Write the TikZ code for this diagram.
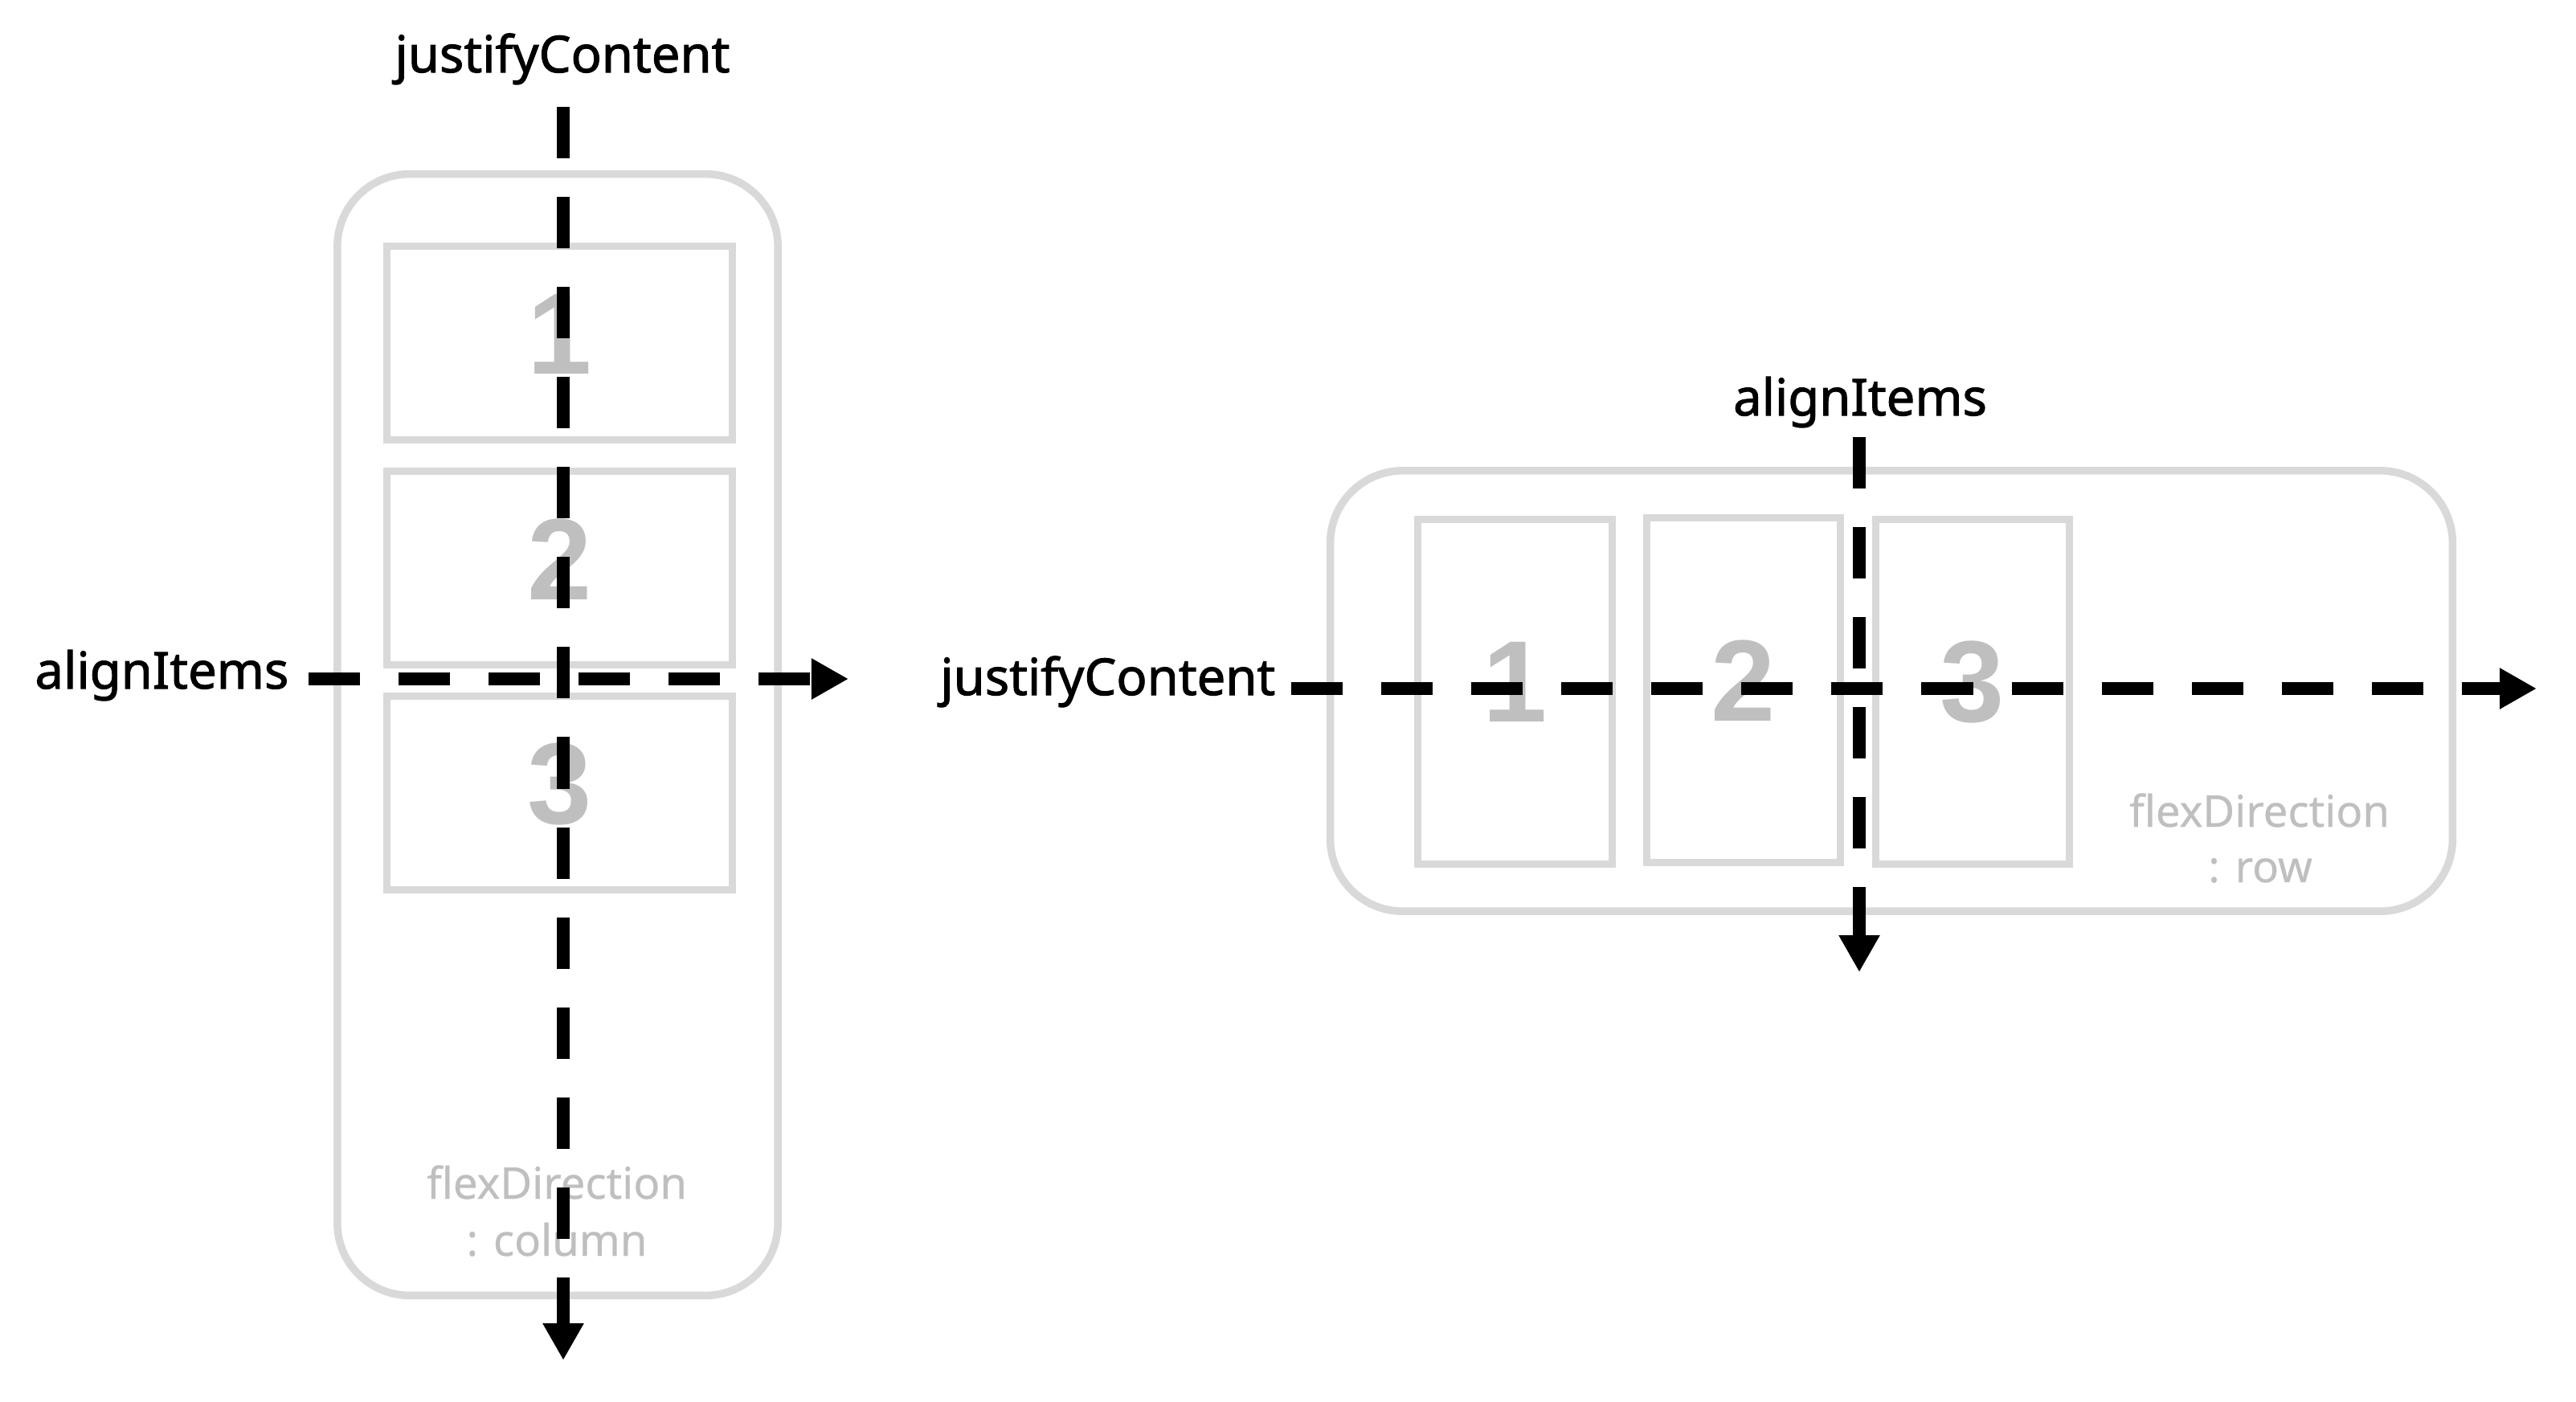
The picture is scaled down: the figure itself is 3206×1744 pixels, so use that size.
\documentclass[tikz,border=0pt]{standalone}
\usepackage{fontspec}
\setmainfont{Noto Sans}
\newfontfamily\labelfont[FakeBold=1.6]{Noto Sans}
\newfontfamily\notefont[FakeBold=0.4]{Noto Sans}
\newfontfamily\digitfont{Liberation Sans}
\usetikzlibrary{arrows.meta}
\definecolor{boxgray}{HTML}{D9D9D9}
\definecolor{txtgray}{HTML}{BFBFBF}
\tikzset{
  container/.style={draw=boxgray, line width=0.095cm, rounded corners=0.9cm, inner sep=0pt},
  itembox/.style={draw=boxgray, line width=0.09cm, inner sep=0pt},
  digit/.style={text=txtgray, font=\digitfont\bfseries\fontsize{41}{41}\selectfont, inner sep=0pt},
  axislabel/.style={font=\labelfont\fontsize{18}{22}\selectfont, inner sep=0pt},
  note/.style={text=txtgray, font=\notefont\fontsize{15.5}{19}\selectfont, inner sep=0pt, anchor=base},
  flow/.style={line width=0.16cm, dash pattern=on 0.64cm off 0.48cm, -{Triangle[length=0.46cm,width=0.48cm]}}
}
\begin{document}
\begin{tikzpicture}[x=0.01cm, y=-0.01cm]
\fill[white] (0,0) rectangle (3206,1744);
\useasboundingbox (0,0) rectangle (3206,1744);

% ---- left: flexDirection column ----
\node[container, minimum width=5.48cm, minimum height=13.95cm] (colbox) at (694,914.5) {};
\node[itembox, minimum width=4.30cm, minimum height=2.40cm] (c1) at (696.5,427) {};
\node[itembox, minimum width=4.30cm, minimum height=2.40cm] (c2) at (696.5,707) {};
\node[itembox, minimum width=4.30cm, minimum height=2.40cm] (c3) at (696.5,987) {};
\node[digit] (cd1) at (696.5,416) {1};
\node[digit] (cd2) at (696.5,696) {2};
\node[digit] (cd3) at (696.5,976) {3};
\node[note] (cn1) at (693,1492) {flexDirection};
\node[note] (cn2) at (693,1563) {: column};

% ---- right: flexDirection row ----
\node[container, minimum width=13.96cm, minimum height=5.48cm] (rowbox) at (2354,860) {};
\node[itembox, minimum width=2.41cm, minimum height=4.28cm] (r1) at (1885.5,861) {};
\node[itembox, minimum width=2.41cm, minimum height=4.28cm] (r2) at (2170,859) {};
\node[itembox, minimum width=2.41cm, minimum height=4.28cm] (r3) at (2455,861) {};
\node[digit] (rd1) at (1885.5,849) {1};
\node[digit] (rd2) at (2170,847) {2};
\node[digit] (rd3) at (2455,849) {3};
\node[note] (rn1) at (2812,1029) {flexDirection};
\node[note] (rn2) at (2813,1098) {: row};

% ---- labels ----
\node[axislabel, anchor=base] (ljc) at (700,90) {justifyContent};
\node[axislabel, anchor=base east] (lai) at (360,857) {alignItems};
\node[axislabel, anchor=base east] (rjc) at (1588,865) {justifyContent};
\node[axislabel, anchor=base] (rai) at (2315,517) {alignItems};

% ---- axis arrows ----
\coordinate (lvs) at (701,133);
\coordinate (lve) at (701,1693);
\coordinate (lhs) at (384,845);
\coordinate (lhe) at (1056,845);
\coordinate (rhs) at (1607,857);
\coordinate (rhe) at (3157,857);
\coordinate (rvs) at (2314,544);
\coordinate (rve) at (2314,1210);
\draw[flow] (lvs) -- (lve);
\draw[flow] (lhs) -- (lhe);
\draw[flow] (rhs) -- (rhe);
\draw[flow] (rvs) -- (rve);
\end{tikzpicture}
\end{document}
